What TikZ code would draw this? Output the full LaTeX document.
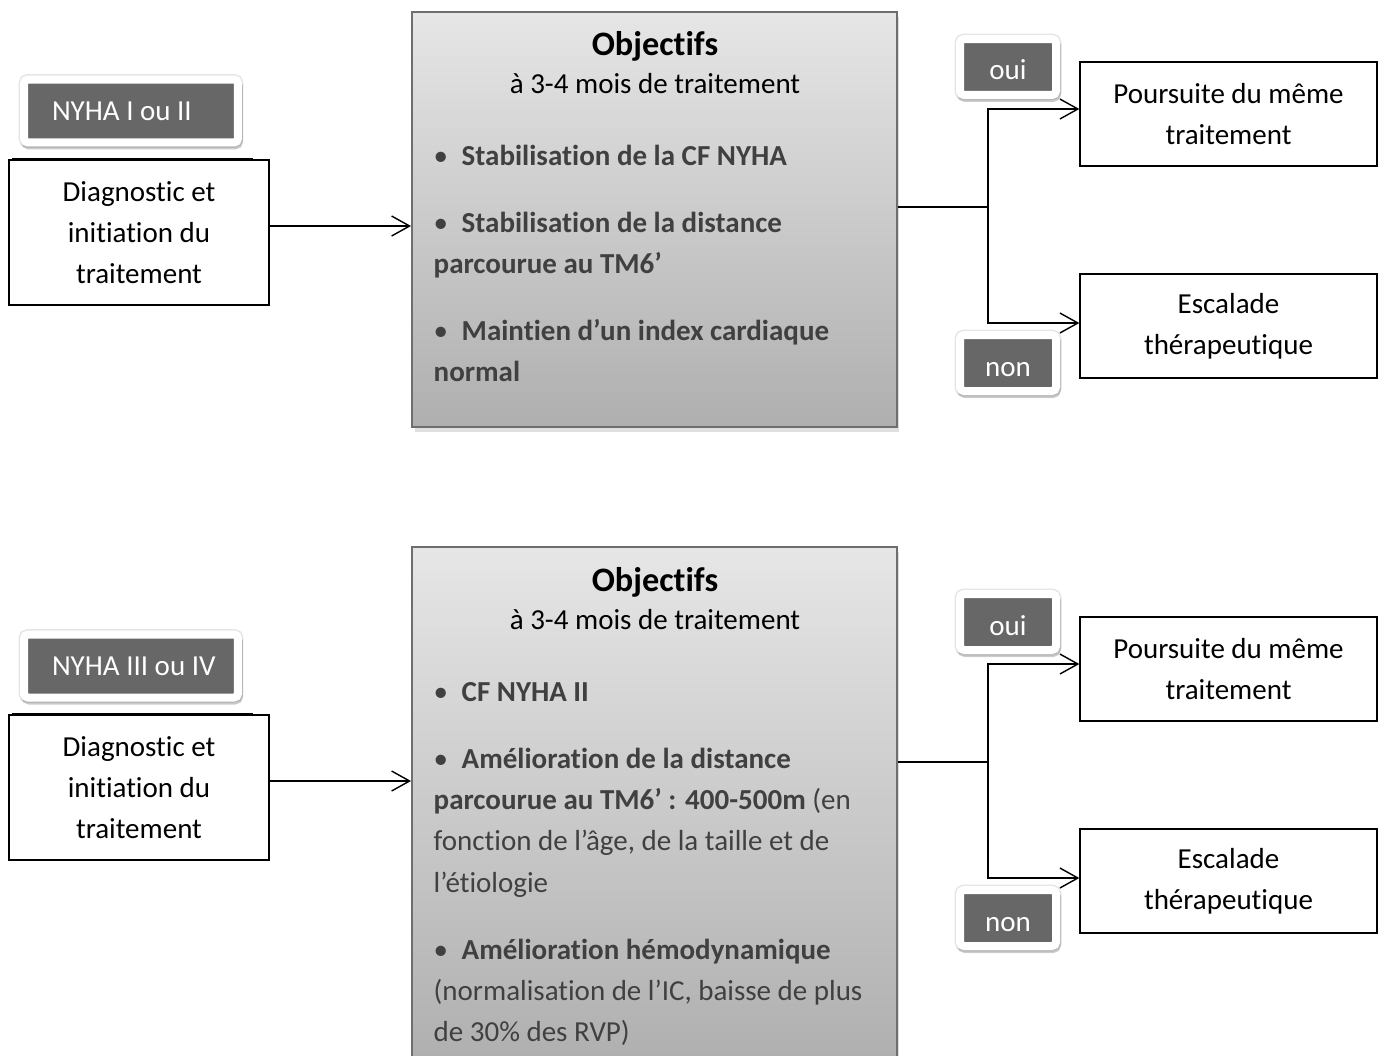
\documentclass[tikz,border=0pt]{standalone}
\usepackage{fontspec}
\setmainfont{Carlito}[Ligatures=NoCommon]
\usetikzlibrary{arrows.meta,shadows}
\definecolor{labelgray}{HTML}{676767}
\definecolor{objtop}{HTML}{E6E6E6}
\definecolor{objbot}{HTML}{AFAFAF}
\definecolor{objline}{HTML}{6E6E6E}
\definecolor{itemgray}{HTML}{404040}
\newcommand{\normaltxt}{\fontsize{16.5}{23.5}\selectfont}
\newcommand{\puce}{\makebox[0.56cm][l]{•}}
\begin{document}
\begin{tikzpicture}[x=0.02cm, y=-0.02cm, line width=0.8pt,
  etiq/.style = {fill=labelgray, draw=white, line width=0.16cm, rounded corners=0.08cm, text=white, font=\normaltxt, preaction={draw=black!10, line width=0.22cm}, drop shadow={shadow xshift=0.02cm, shadow yshift=-0.06cm, opacity=0.2, draw=black, line width=0.16cm}},
  etiqnyha/.style = {etiq, minimum height=1.26cm, text width=3.4cm, inner xsep=0.44cm, align=left, execute at begin node={\spaceskip=0pt\xspaceskip=0pt\relax}},
  etiqsmall/.style = {etiq, minimum width=1.92cm, minimum height=1.12cm, text height=0.52cm, text depth=0cm},
  cadre/.style = {draw, line width=0.8pt, align=center, font=\normaltxt},
  diagbox/.style = {cadre, minimum width=5.2cm, minimum height=2.9cm},
  resbox/.style = {cadre, minimum width=5.94cm, minimum height=2.08cm},
  objbox/.style = {draw=objline, line width=0.04cm, top color=objtop, bottom color=objbot, minimum width=9.7cm, drop shadow={shadow xshift=0.05cm, shadow yshift=-0.1cm, opacity=0.25}},
  objtitle/.style = {anchor=base, inner sep=0, font=\fontsize{19.5}{23.5}\selectfont\bfseries},
  objsub/.style = {anchor=base, inner sep=0, font=\normaltxt},
  objtext/.style = {anchor=north west, inner sep=0, text width=9.2cm, align=left, text=itemgray, font=\normaltxt, execute at begin node={\spaceskip=0pt\xspaceskip=0pt\relax}},
  arr/.style = {-{Straight Barb[length=0.36cm, width=0.4cm]}}]
  \clip (0,0) rectangle (1382,1055);

  \node[diagbox] (diag1) at (139,232.5) {Diagnostic et\\ initiation du\\ traitement};
  \draw[line width=0.06cm] ([xshift=0.08cm]diag1.north west) -- ([xshift=-0.34cm]diag1.north east);
  \node[etiqnyha] (nyha1) at (131,111) {\hspace*{0.12cm}NYHA I ou II};
  \node[objbox, minimum height=8.3cm] (obj1) at (654.5,219.5) {};
  \node[objtitle] (obj1title) at (655,55) {Objectifs};
  \node[objsub] (obj1sub) at (655,93) {à 3-4 mois de traitement};
  \node[objtext] (obj1list) at (433,136) {\strut\puce\textbf{Stabilisation de la CF NYHA}\\[0.51cm]
    \puce\textbf{Stabilisation de la distance}\\
    \textbf{parcourue au TM6’}\\[0.51cm]
    \puce\textbf{Maintien d’un index cardiaque}\\
    \textbf{normal}};
  \node[resbox] (pours1) at (1228.5,114) {Poursuite du même\\ traitement};
  \node[resbox] (esc1) at (1228.5,326) {Escalade\\ thérapeutique};
  \coordinate (split1) at (988,207);
  \draw[arr] ([yshift=0.13cm]diag1.east) -- ([yshift=0.13cm]diag1.east -| obj1.west);
  \draw (split1 -| obj1.east) -- (split1);
  \draw[arr] (split1) |- ([yshift=0.1cm]pours1.west);
  \draw[arr] (split1) |- ([yshift=0.06cm]esc1.west);
  \node[etiqsmall] (oui1) at (1008,67) {oui};
  \node[etiqsmall] (non1) at (1008,363) {non};

  \node[diagbox] (diag2) at (139,787.5) {Diagnostic et\\ initiation du\\ traitement};
  \draw[line width=0.06cm] ([xshift=0.08cm]diag2.north west) -- ([xshift=-0.34cm]diag2.north east);
  \node[etiqnyha] (nyha2) at (131,666) {\hspace*{0.12cm}NYHA III ou IV};
  \node[objbox, minimum height=10.36cm] (obj2) at (654.5,806) {};
  \node[objtitle] (obj2title) at (655,591) {Objectifs};
  \node[objsub] (obj2sub) at (655,629) {à 3-4 mois de traitement};
  \node[objtext] (obj2list) at (433,672) {\strut\puce\textbf{CF NYHA II}\\[0.51cm]
    \puce\textbf{Amélioration de la distance}\\
    \textbf{parcourue au TM6’ : 400-500m} (en\\
    fonction de l’âge, de la taille et de\\
    l’étiologie\\[0.51cm]
    \puce\textbf{Amélioration hémodynamique}\\
    (normalisation de l’IC, baisse de plus\\
    de 30\% des RVP)};
  \node[resbox] (pours2) at (1228.5,669) {Poursuite du même\\ traitement};
  \node[resbox] (esc2) at (1228.5,881) {Escalade\\ thérapeutique};
  \coordinate (split2) at (988,762);
  \draw[arr] ([yshift=0.13cm]diag2.east) -- ([yshift=0.13cm]diag2.east -| obj2.west);
  \draw (split2 -| obj2.east) -- (split2);
  \draw[arr] (split2) |- ([yshift=0.1cm]pours2.west);
  \draw[arr] (split2) |- ([yshift=0.06cm]esc2.west);
  \node[etiqsmall] (oui2) at (1008,622) {oui};
  \node[etiqsmall] (non2) at (1008,918) {non};
\end{tikzpicture}
\end{document}
